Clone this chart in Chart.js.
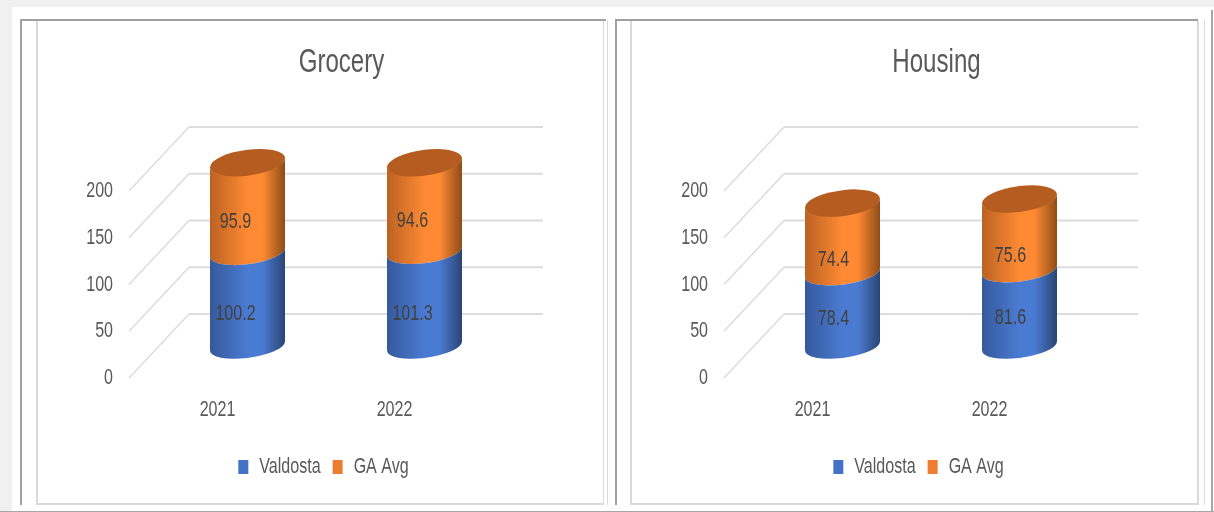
<!DOCTYPE html>
<html>
<head>
<meta charset="utf-8">
<title>Grocery and Housing</title>
<script src="https://cdn.jsdelivr.net/npm/chart.js@4"></script>
<style>
  html, body { margin: 0; padding: 0; background: #fff; overflow: hidden; }
  body { position: relative; width: 1214px; height: 512px; }
  .ln { position: absolute; }
  canvas { position: absolute; top: 0; }
</style>
</head>
<body>
<div class="ln" style="left:0;top:0;width:1214px;height:7px;background:#f0f0f0"></div>
<div class="ln" style="left:0;top:0;width:12px;height:511px;background:#f0f0f0"></div>
<div class="ln" style="left:0;top:511px;width:1214px;height:1px;background:#a6a6a6"></div>

<div class="ln" style="left:20px;top:19px;width:2px;height:486px;background:#a0a0a0"></div>
<div class="ln" style="left:20px;top:19px;width:586px;height:2px;background:#a0a0a0"></div>
<div class="ln" style="left:36px;top:21px;width:2px;height:484px;background:#d9d9d9"></div>
<div class="ln" style="left:36px;top:503px;width:568px;height:2px;background:#d9d9d9"></div>
<div class="ln" style="left:603px;top:21px;width:1px;height:484px;background:#d9d9d9"></div>
<div class="ln" style="left:607px;top:20px;width:1px;height:485px;background:#d9d9d9"></div>

<div class="ln" style="left:615px;top:19px;width:2px;height:486px;background:#a0a0a0"></div>
<div class="ln" style="left:615px;top:19px;width:583px;height:2px;background:#a0a0a0"></div>
<div class="ln" style="left:630px;top:21px;width:2px;height:484px;background:#d9d9d9"></div>
<div class="ln" style="left:630px;top:503px;width:568px;height:2px;background:#d9d9d9"></div>
<div class="ln" style="left:1197px;top:21px;width:2px;height:484px;background:#d9d9d9"></div>
<div class="ln" style="left:1204px;top:20px;width:1px;height:485px;background:#d9d9d9"></div>
<div class="ln" style="left:1211px;top:10px;width:2px;height:501px;background:#a6a6a6"></div>

<canvas id="grocery" width="486" height="511" style="left:80px"></canvas>
<canvas id="housing" width="486" height="511" style="left:675px"></canvas>

<script>
const years = ['2021', '2022'];
const seriesNames = ['Valdosta', 'GA Avg'];
const seriesColors = ['#4472c4', '#ed7d31'];
const groceryValdosta = [100.2, 101.3];
const groceryGaAvg = [95.9, 94.6];
const housingValdosta = [78.4, 81.6];
const housingGaAvg = [74.4, 75.6];
const yTicks = [0, 50, 100, 150, 200];

const FONT = '"Liberation Sans", sans-serif';
const TEXT = '#595959';
const SQUEEZE = 0.73; // no narrow font installed, so text is squeezed sideways

// shading of the round side and the darker top cap
const shades = [
  { edge: '#35599c', mid: '#4a7bd2', dark: '#2a4573' },
  { edge: '#bb6222', mid: '#ff8a33', dark: '#8f4c18' }
];
const capColor = '#b55d20';

function squeezeText(ctx) {
  const fill = ctx.fillText.bind(ctx);
  const measure = ctx.measureText.bind(ctx);
  ctx.fillText = (str, x, y) => {
    ctx.save();
    ctx.translate(x, y);
    ctx.scale(SQUEEZE, 1);
    fill(str, 0, 0);
    ctx.restore();
  };
  ctx.measureText = str => {
    const m = measure(str);
    return { width: m.width * SQUEEZE, actualBoundingBoxAscent: m.actualBoundingBoxAscent, actualBoundingBoxDescent: m.actualBoundingBoxDescent };
  };
}

function cylinderBody(ctx, a, b, top, bottom) {
  ctx.beginPath();
  ctx.moveTo(-a, top);
  ctx.lineTo(-a, bottom);
  ctx.ellipse(0, bottom, a, b, 0, Math.PI, 0, true);
  ctx.lineTo(a, top);
  ctx.ellipse(0, top, a, b, 0, 0, Math.PI, false);
  ctx.closePath();
}

const cylinders = {
  id: 'cylinders',
  // the flat bars are replaced by cylinders placed on the library's own bar geometry
  beforeDatasetDraw(chart, args) {
    const ctx = chart.ctx;
    const shade = shades[args.index];
    const lean = -0.12, b = 12;
    args.meta.data.forEach(bar => {
      const a = bar.width / 2;
      ctx.save();
      ctx.transform(1, lean, 0, 1, bar.x, 0);
      const g = ctx.createLinearGradient(-a, 0, a, 0);
      g.addColorStop(0, shade.edge);
      g.addColorStop(0.5, shade.mid);
      g.addColorStop(0.7, shade.mid);
      g.addColorStop(1, shade.dark);
      ctx.fillStyle = g;
      cylinderBody(ctx, a, b, bar.y, bar.base);
      ctx.fill();
      if (args.index === chart.data.datasets.length - 1) {
        ctx.fillStyle = capColor;
        ctx.beginPath();
        ctx.ellipse(0, bar.y, a, b + 1, 0, 0, Math.PI * 2);
        ctx.fill();
      }
      ctx.restore();
    });
    return false;
  }
};

const walls = {
  id: 'walls',
  beforeDatasetsDraw(chart) {
    const ctx = chart.ctx, y = chart.scales.y, left = chart.chartArea.left;
    ctx.save();
    ctx.strokeStyle = '#dcdcdc';
    yTicks.forEach(v => {
      const p = y.getPixelForValue(v);
      ctx.lineWidth = 1.5;
      ctx.beginPath();
      ctx.moveTo(left - 30, p + 32);
      ctx.lineTo(left + 30, p - 32);
      ctx.stroke();
      ctx.lineWidth = 2;
      ctx.beginPath();
      ctx.moveTo(left + 30, p - 32);
      ctx.lineTo(left + 384, p - 32);
      ctx.stroke();
    });
    ctx.restore();
  }
};

const valueLabels = {
  id: 'valueLabels',
  afterDatasetsDraw(chart, args, opts) {
    const ctx = chart.ctx;
    ctx.save();
    ctx.font = '22px ' + FONT;
    ctx.fillStyle = '#404040';
    ctx.textAlign = 'center';
    ctx.textBaseline = 'middle';
    chart.data.datasets.forEach((ds, i) => {
      chart.getDatasetMeta(i).data.forEach((bar, j) => {
        ctx.fillText(ds.data[j].toFixed(1), bar.x + opts.dx, (bar.y + bar.base) / 2 + opts.dy[i]);
      });
    });
    ctx.restore();
  }
};

// title and legend are not centred on the plot in the reference
const textShift = {
  id: 'textShift',
  afterLayout(chart) {
    chart.titleBlock.left += 45;
    chart.titleBlock.right += 45;
    chart.legend.left += 27;
    chart.legend.right += 27;
  }
};

function makeChart(id, name, first, second, labelDx, labelDy) {
  const canvas = document.getElementById(id);
  squeezeText(canvas.getContext('2d'));
  new Chart(canvas, {
    type: 'bar',
    data: {
      labels: years,
      datasets: [
        { label: seriesNames[0], data: first, backgroundColor: seriesColors[0] },
        { label: seriesNames[1], data: second, backgroundColor: seriesColors[1] }
      ]
    },
    options: {
      responsive: false,
      animation: false,
      layout: { padding: { left: 0, right: 53, top: 0, bottom: 23 } },
      datasets: { bar: { barPercentage: 0.4237, categoryPercentage: 1 } },
      scales: {
        x: {
          stacked: true,
          grid: { display: false, drawTicks: false },
          border: { display: false },
          afterFit: s => { s.height = 98; },
          ticks: {
            labelOffset: -30, padding: 51, color: TEXT, maxRotation: 0,
            font: { family: FONT, size: 22 }
          }
        },
        y: {
          stacked: true,
          min: 0,
          max: 200,
          grid: { display: false, drawTicks: false },
          border: { display: false },
          afterFit: s => { s.width = 79; },
          afterBuildTicks: s => { s.ticks = yTicks.map(v => ({ value: v })); },
          ticks: {
            labelOffset: 32, padding: 46, color: TEXT,
            font: { family: FONT, size: 22 }
          }
        }
      },
      plugins: {
        title: {
          display: true, text: name, color: TEXT,
          font: { family: FONT, size: 33, weight: 'normal' },
          padding: { top: 43, bottom: 76.4 }
        },
        legend: {
          position: 'bottom',
          labels: {
            boxWidth: 10, boxHeight: 14, padding: 12, color: TEXT,
            font: { family: FONT, size: 22 }
          }
        },
        tooltip: { enabled: false },
        valueLabels: { dx: labelDx, dy: labelDy }
      }
    },
    plugins: [walls, cylinders, valueLabels, textShift]
  });
}

makeChart('grocery', 'Grocery', groceryValdosta, groceryGaAvg, -12, [15, 14]);
makeChart('housing', 'Housing', housingValdosta, housingGaAvg, -9, [10, 22]);
</script>
</body>
</html>
